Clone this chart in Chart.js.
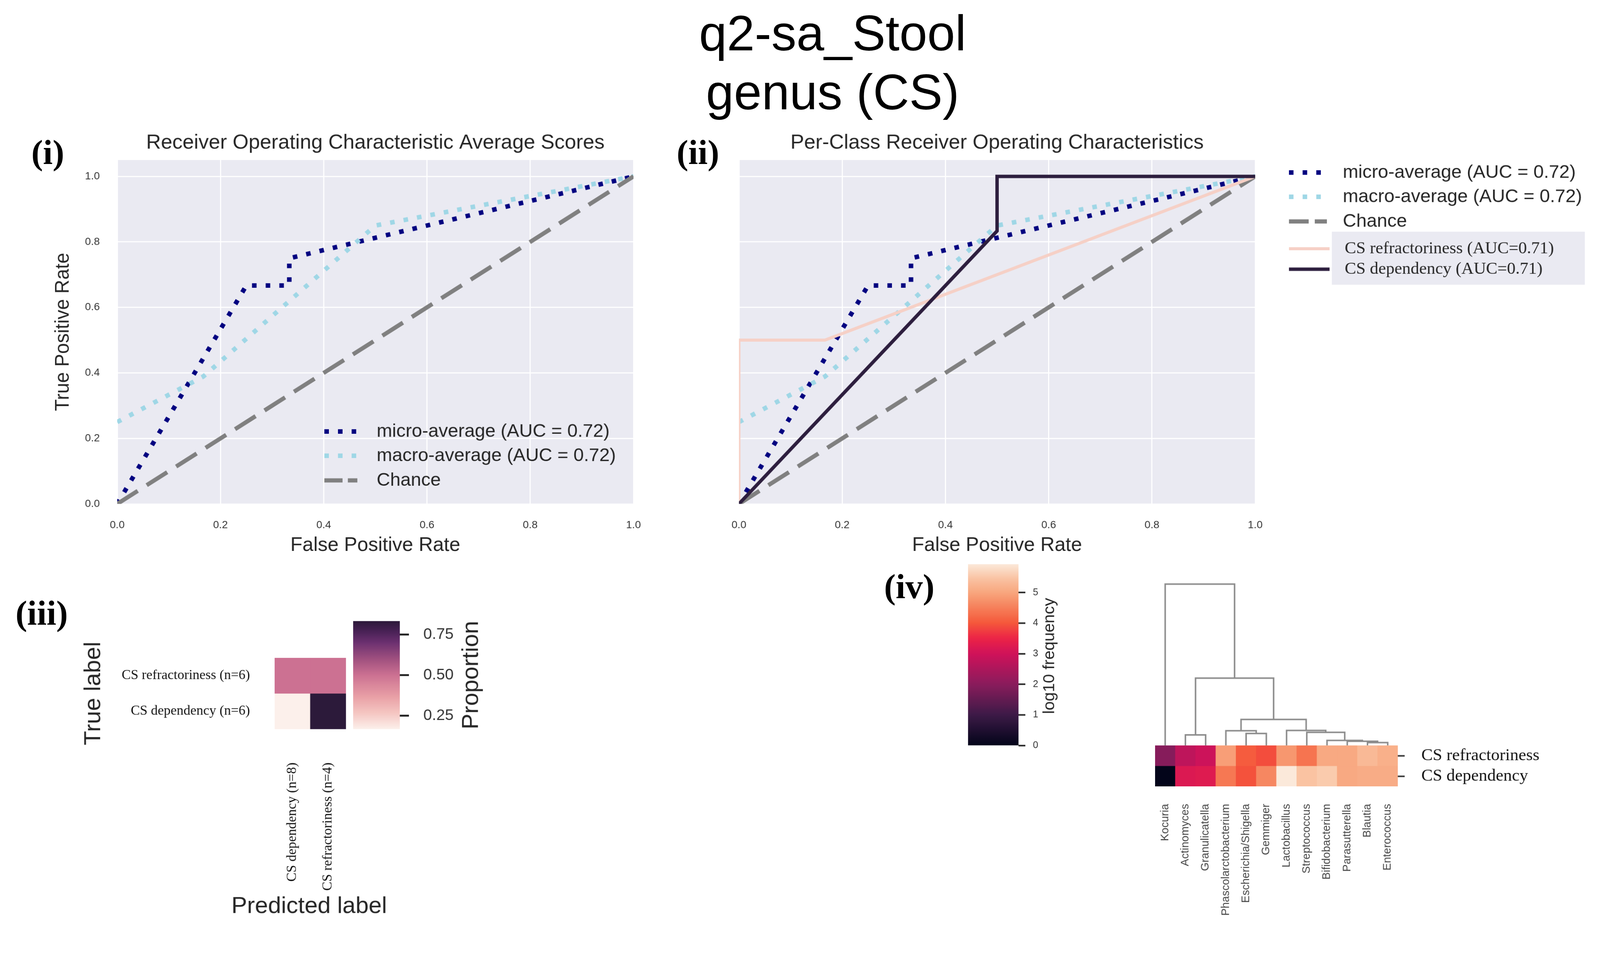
<!DOCTYPE html>
<html>
<head>
<meta charset="utf-8">
<title>q2-sa_Stool genus (CS)</title>
<script src="https://cdn.jsdelivr.net/npm/chart.js@4.4.1/dist/chart.umd.min.js"></script>
<style>
  html, body { margin: 0; padding: 0; background: #fff; overflow: hidden; }
  body { font-family: "Liberation Sans", Arial, sans-serif; }
  #page { position: absolute; left: 0; top: 0; width: 4218px; height: 2492px; transform-origin: 0 0; background: #fff; }
  .box { position: absolute; }
  .box canvas { display: block; }
  .title-line { position: absolute; font-size: 132px; line-height: 1; color: #000; white-space: nowrap; transform: translate(-50%, -50%); }
  .tag { position: absolute; font-family: "Liberation Serif", "Times New Roman", serif; font-weight: bold; font-size: 92px; line-height: 1; color: #000; transform: translate(-50%, -50%); }
</style>
</head>
<body>
<div id="page">
  <div class="title-line" style="left:2195px; top:88px;">q2-sa_Stool</div>
  <div class="title-line" style="left:2195px; top:243px;">genus (CS)</div>

  <div class="tag" style="left:126px; top:401px;">(i)</div>
  <div class="tag" style="left:1840px; top:401px;">(ii)</div>
  <div class="tag" style="left:110px; top:1617px;">(iii)</div>
  <div class="tag" style="left:2397px; top:1547px;">(iv)</div>

  <div class="box" style="left:0; top:330px;"><canvas id="rocAvg" width="1720" height="1180"></canvas></div>
  <div class="box" style="left:1750px; top:330px;"><canvas id="rocClass" width="2468" height="1180"></canvas></div>
  <div class="box" style="left:0; top:1640px;"><canvas id="confMat" width="1100" height="852"></canvas></div>
  <div class="box" style="left:920px; top:1560px;"><canvas id="confBar" width="420" height="400"></canvas></div>
  <div class="box" style="left:2540px; top:1460px;"><canvas id="freqBar" width="330" height="540"></canvas></div>
  <div class="box" style="left:3000px; top:1500px;"><canvas id="dendro" width="1218" height="466"></canvas></div>
  <div class="box" style="left:3000px; top:1940px;"><canvas id="freqMap" width="1218" height="552"></canvas></div>
</div>

<script>
// la page est dessinée en 4218x2492 ; on réduit si la fenêtre est plus petite
const fit = Math.min(window.innerWidth / 4218, window.innerHeight / 2492);
if (fit < 0.999) document.getElementById('page').style.transform = `scale(${fit})`;

// ---- données ----
const rocTicks = [0, 0.2, 0.4, 0.6, 0.8, 1.0];

const fprMicro = [0, 0.25, 0.3333, 0.3333, 1];
const tprMicro = [0, 0.6667, 0.6667, 0.75, 1];
const fprMacro = [0, 0.1667, 0.5, 1];
const tprMacro = [0.25, 0.3889, 0.85, 1];
const fprChance = [0, 1];
const tprChance = [0, 1];
const fprRefractoriness = [0, 0, 0.1667, 1];
const tprRefractoriness = [0, 0.5, 0.5, 1];
const fprDependency = [0, 0.5, 0.5, 1];
const tprDependency = [0, 0.8333, 1, 1];

const predLabels = ['CS dependency (n=8)', 'CS refractoriness (n=4)'];
const trueLabels = ['CS refractoriness (n=6)', 'CS dependency (n=6)'];
const propRefractoriness = [0.5, 0.5];
const propDependency = [0.1667, 0.8333];
const propTicks = [0.25, 0.5, 0.75];

const genera = ['Kocuria', 'Actinomyces', 'Granulicatella', 'Phascolarctobacterium', 'Escherichia/Shigella',
  'Gemmiger', 'Lactobacillus', 'Streptococcus', 'Bifidobacterium', 'Parasutterella', 'Blautia', 'Enterococcus'];
const groupLabels = ['CS refractoriness', 'CS dependency'];
const freqRefractoriness = [1.95, 2.75, 2.95, 4.9, 4.05, 3.9, 4.8, 4.35, 5.05, 5.05, 5.3, 5.15];
const freqDependency = [0, 3.2, 3.25, 4.4, 3.95, 4.6, 5.93, 5.45, 5.55, 5.05, 5.1, 5.1];
const freqTicks = [0, 1, 2, 3, 4, 5];
// liens du dendrogramme : [noeud gauche, noeud droit, hauteur] (feuilles 0..11)
const clusterLinks = [
  [10, 11, 20], [9, 12, 30], [8, 13, 36], [1, 2, 75], [4, 5, 85], [7, 14, 93],
  [3, 16, 105], [6, 17, 107], [18, 19, 185], [15, 20, 480], [0, 21, 1150]
];

// ---- palettes ----
function makeCmap(stops) {
  const p = stops.map(([t, h]) => [t, parseInt(h.slice(1, 3), 16), parseInt(h.slice(3, 5), 16), parseInt(h.slice(5, 7), 16)]);
  return t => {
    t = Math.min(1, Math.max(0, t));
    for (let i = 1; i < p.length; i++) {
      if (t <= p[i][0]) {
        const a = p[i - 1], b = p[i], f = (t - a[0]) / (b[0] - a[0]);
        const c = k => Math.round(a[k] + (b[k] - a[k]) * f);
        return `rgb(${c(1)},${c(2)},${c(3)})`;
      }
    }
    const l = p[p.length - 1];
    return `rgb(${l[1]},${l[2]},${l[3]})`;
  };
}
// "rocket" recalé sur la barre de couleur de la figure
const rocket = makeCmap([[0, '#03051a'], [0.169, '#3d1a47'], [0.337, '#8a1c5c'], [0.506, '#d0125a'],
  [0.59, '#ec2347'], [0.675, '#f5583b'], [0.76, '#f6805a'], [0.843, '#f8a67e'], [0.92, '#fac3a2'], [1, '#fbe9da']]);
const propCmap = makeCmap([[0, '#fcf0eb'], [0.15, '#f5c6c2'], [0.3, '#e9a0a6'], [0.5, '#cc7192'],
  [0.65, '#a0507f'], [0.8, '#6c3170'], [0.9, '#4b2257'], [1, '#2c1a3a']]);

// tailles d'axes fixes, sans marge automatique due aux étiquettes
const fixHeight = h => s => { s.height = h; s.paddingLeft = 0; s.paddingRight = 0; };
const fixWidth = w => s => { s.width = w; s.paddingTop = 0; s.paddingBottom = 0; };

// ---- plugins ----
const axesFace = {
  id: 'axesFace',
  beforeDraw(chart, args, opts) {
    if (!opts.color) return;
    const { ctx, chartArea: a } = chart;
    ctx.save();
    ctx.fillStyle = opts.color;
    ctx.fillRect(a.left, a.top, a.right - a.left, a.bottom - a.top);
    ctx.restore();
  }
};

// textes libres placés par rapport au centre de la zone de tracé
const freeLabels = {
  id: 'freeLabels',
  afterDraw(chart, args, opts) {
    if (!opts.items) return;
    const { ctx, chartArea: a } = chart;
    const cx = (a.left + a.right) / 2, cy = (a.top + a.bottom) / 2;
    opts.items.forEach(it => {
      ctx.save();
      ctx.translate(cx + it.dx, cy + it.dy);
      if (it.rotate) ctx.rotate(it.rotate);
      ctx.font = it.font;
      ctx.fillStyle = '#262626';
      ctx.textAlign = 'center';
      ctx.textBaseline = 'middle';
      ctx.fillText(it.text, 0, 0);
      ctx.restore();
    });
  }
};

// légende à traits, reprend le style des jeux de données
const lineLegend = {
  id: 'lineLegend',
  afterDraw(chart, args, opts) {
    if (!opts.rows) return;
    const { ctx, chartArea: a } = chart;
    ctx.save();
    if (opts.frame) {
      ctx.fillStyle = opts.frame.color;
      ctx.fillRect(a.left + opts.frame.x, a.top + opts.frame.y, opts.frame.w, opts.frame.h);
    }
    opts.rows.forEach(row => {
      const ds = chart.data.datasets[row.dataset];
      const x = a.left + row.x, y = a.top + row.y;
      ctx.beginPath();
      ctx.setLineDash(row.dash || ds.borderDash || []);
      ctx.lineWidth = ds.borderWidth;
      ctx.strokeStyle = ds.borderColor;
      ctx.lineCap = 'butt';
      ctx.moveTo(x, y);
      ctx.lineTo(x + row.w, y);
      ctx.stroke();
      ctx.setLineDash([]);
      ctx.font = row.font;
      ctx.fillStyle = '#262626';
      ctx.textAlign = 'left';
      ctx.textBaseline = 'middle';
      ctx.fillText(ds.label, x + row.w + row.gap, y);
    });
    ctx.restore();
  }
};

Chart.register(axesFace, freeLabels, lineLegend);
Chart.defaults.font.family = "'Liberation Sans', Arial, sans-serif";
Chart.defaults.color = '#262626';

const SANS = "'Liberation Sans', Arial, sans-serif";
const SERIF = "'Liberation Serif', 'Times New Roman', serif";
const LEGEND_FONT = `49px ${SANS}`;
const LEGEND_SERIF = `45px ${SERIF}`;

function curve(label, xs, ys, style, order) {
  return Object.assign({
    label,
    data: xs.map((x, i) => ({ x, y: ys[i] })),
    showLine: true, pointRadius: 0, tension: 0, fill: false, order
  }, style);
}

const microStyle = { borderColor: '#000080', borderWidth: 12, borderDash: [12, 24] };
const macroStyle = { borderColor: '#9fd7e6', borderWidth: 12, borderDash: [12, 24] };
const chanceStyle = { borderColor: '#808080', borderWidth: 11, borderDash: [64, 28] };

function rocOptions(cfg) {
  return {
    responsive: false, devicePixelRatio: 1, animation: false,
    layout: { padding: cfg.padding, autoPadding: false },
    plugins: {
      legend: { display: false },
      tooltip: { enabled: false },
      axesFace: { color: '#eaeaf2' },
      freeLabels: { items: [{ text: cfg.title, font: `54px ${SANS}`, dx: 0, dy: -498 }] },
      lineLegend: cfg.legend
    },
    scales: {
      x: {
        type: 'linear', min: 0, max: 1,
        afterBuildTicks: s => { s.ticks = rocTicks.map(v => ({ value: v })); },
        afterFit: fixHeight(181),
        grid: { color: '#ffffff', lineWidth: 3, drawTicks: false },
        border: { display: false },
        ticks: { padding: 39, color: '#333', font: { size: 28 }, callback: v => v.toFixed(1) },
        title: { display: true, text: 'False Positive Rate', font: { size: 52 }, padding: { top: 0, bottom: 40 } }
      },
      y: {
        type: 'linear', min: 0, max: 1.05,
        afterBuildTicks: s => { s.ticks = rocTicks.map(v => ({ value: v })); },
        afterFit: fixWidth(cfg.yWidth),
        grid: { color: '#ffffff', lineWidth: 3, drawTicks: false },
        border: { display: false },
        ticks: { display: cfg.yLabels, padding: 46, color: '#333', font: { size: 28 }, callback: v => v.toFixed(1) },
        title: { display: cfg.yLabels, text: 'True Positive Rate', font: { size: 51 }, padding: { top: 136, bottom: 0 } }
      }
    }
  };
}

// (i) courbes moyennes
new Chart(document.getElementById('rocAvg'), {
  type: 'scatter',
  data: {
    datasets: [
      curve('micro-average (AUC = 0.72)', fprMicro, tprMicro, microStyle, 3),
      curve('macro-average (AUC = 0.72)', fprMacro, tprMacro, macroStyle, 2),
      curve('Chance', fprChance, tprChance, chanceStyle, 1)
    ]
  },
  options: rocOptions({
    padding: { top: 92, right: 50, left: 0, bottom: 0 },
    yWidth: 309, yLabels: true,
    title: 'Receiver Operating Characteristic Average Scores',
    legend: {
      rows: [
        { dataset: 0, x: 546, y: 716, w: 87, gap: 51, font: LEGEND_FONT },
        { dataset: 1, x: 546, y: 780, w: 87, gap: 51, font: LEGEND_FONT },
        { dataset: 2, x: 546, y: 845, w: 87, gap: 51, font: LEGEND_FONT, dash: [48, 14] }
      ]
    }
  })
});

// (ii) courbes par classe
new Chart(document.getElementById('rocClass'), {
  type: 'scatter',
  data: {
    datasets: [
      curve('micro-average (AUC = 0.72)', fprMicro, tprMicro, microStyle, 5),
      curve('macro-average (AUC = 0.72)', fprMacro, tprMacro, macroStyle, 4),
      curve('Chance', fprChance, tprChance, chanceStyle, 3),
      curve('CS refractoriness (AUC=0.71)', fprRefractoriness, tprRefractoriness, { borderColor: '#f6d0c6', borderWidth: 8 }, 2),
      curve('CS dependency (AUC=0.71)', fprDependency, tprDependency, { borderColor: '#2d1e3e', borderWidth: 9 }, 1)
    ]
  },
  options: rocOptions({
    padding: { top: 92, right: 909, left: 0, bottom: 0 },
    yWidth: 198, yLabels: false,
    title: 'Per-Class Receiver Operating Characteristics',
    legend: {
      frame: { color: '#eaeaf2', x: 1563, y: 189, w: 667, h: 140 },
      rows: [
        { dataset: 0, x: 1450, y: 33, w: 100, gap: 42, font: LEGEND_FONT },
        { dataset: 1, x: 1450, y: 97, w: 100, gap: 42, font: LEGEND_FONT },
        { dataset: 2, x: 1450, y: 162, w: 100, gap: 42, font: LEGEND_FONT, dash: [52, 16] },
        { dataset: 3, x: 1450, y: 234, w: 107, gap: 40, font: LEGEND_SERIF },
        { dataset: 4, x: 1450, y: 288, w: 107, gap: 40, font: LEGEND_SERIF }
      ]
    }
  })
});

// (iii) matrice de confusion normalisée
const propRows = [propRefractoriness, propDependency];
const propAll = propRows.flat();
const propMin = Math.min(...propAll), propMax = Math.max(...propAll);
const propNorm = v => (v - propMin) / (propMax - propMin);

new Chart(document.getElementById('confMat'), {
  type: 'bar',
  data: {
    labels: predLabels,
    datasets: propRows.map((row, r) => ({
      label: trueLabels[r],
      data: row.map(() => [r, r + 1]),
      backgroundColor: row.map(v => propCmap(propNorm(v))),
      borderWidth: 0, barPercentage: 1, categoryPercentage: 1, grouped: false
    }))
  },
  options: {
    responsive: false, devicePixelRatio: 1, animation: false,
    layout: { padding: { top: 95, right: 188, left: 0, bottom: 0 }, autoPadding: false },
    plugins: {
      legend: { display: false }, tooltip: { enabled: false },
      freeLabels: { items: [{ text: 'Predicted label', font: `62px ${SANS}`, dx: -3, dy: 562 }] }
    },
    scales: {
      x: {
        afterFit: fixHeight(569),
        grid: { display: false }, border: { display: false },
        ticks: { minRotation: 90, maxRotation: 90, autoSkip: false, padding: 80, color: '#111', font: { family: SERIF, size: 36 } }
      },
      y: {
        min: 0, max: 2, reverse: true,
        afterBuildTicks: s => { s.ticks = trueLabels.map((t, i) => ({ value: i + 0.5 })); },
        afterFit: fixWidth(724),
        grid: { display: false }, border: { display: false },
        ticks: { padding: 57, color: '#111', font: { family: SERIF, size: 36 }, callback: (v, i) => trueLabels[i] },
        title: { display: true, text: 'True label', font: { size: 62 }, padding: { top: 210, bottom: 0 } }
      }
    }
  }
});

function colorbar(canvasId, vmin, vmax, cmap, ticks, cfg) {
  return new Chart(document.getElementById(canvasId), {
    type: 'bar',
    data: {
      labels: [''],
      datasets: [{
        data: [[vmin, vmax]],
        borderWidth: 0, barPercentage: 1, categoryPercentage: 1,
        backgroundColor(c) {
          const chart = c.chart;
          if (!chart.chartArea) return cmap(0.5);
          const y = chart.scales.y;
          const g = chart.ctx.createLinearGradient(0, y.getPixelForValue(vmin), 0, y.getPixelForValue(vmax));
          for (let i = 0; i <= 40; i++) g.addColorStop(i / 40, cmap(i / 40));
          return g;
        }
      }]
    },
    options: {
      responsive: false, devicePixelRatio: 1, animation: false,
      layout: { padding: cfg.padding, autoPadding: false },
      plugins: {
        legend: { display: false }, tooltip: { enabled: false },
        freeLabels: { items: [cfg.title] }
      },
      scales: {
        x: { display: false },
        y: {
          position: 'right', min: vmin, max: vmax,
          afterBuildTicks: s => { s.ticks = ticks.map(v => ({ value: v })); },
          afterFit: fixWidth(cfg.width),
          grid: { display: true, drawOnChartArea: false, drawTicks: true, tickLength: cfg.tickLength, tickWidth: cfg.tickWidth, tickColor: '#222' },
          border: { display: false },
          ticks: { padding: cfg.tickPadding, color: '#333', font: { size: cfg.fontSize }, callback: cfg.format }
        }
      }
    }
  });
}

colorbar('confBar', propMin, propMax, propCmap, propTicks, {
  padding: { left: 11, top: 78, bottom: 37, right: 0 },
  width: 286, tickLength: 24, tickWidth: 5, tickPadding: 38, fontSize: 41,
  format: v => v.toFixed(2),
  title: { text: 'Proportion', font: `62px ${SANS}`, dx: 250, dy: 0, rotate: -Math.PI / 2 }
});

// (iv) fréquences log10 + dendrogramme
const freqRows = [freqRefractoriness, freqDependency];
const freqMax = Math.max(...freqRows.flat());
const freqMin = Math.min(...freqRows.flat());

colorbar('freqBar', freqMin, freqMax, rocket, freqTicks, {
  padding: { left: 12, top: 28, bottom: 34, right: 0 },
  width: 185, tickLength: 18, tickWidth: 4, tickPadding: 20, fontSize: 25,
  format: v => String(v),
  title: { text: 'log10 frequency', font: `43px ${SANS}`, dx: 149, dy: 3, rotate: -Math.PI / 2 }
});

new Chart(document.getElementById('freqMap'), {
  type: 'bar',
  data: {
    labels: genera,
    datasets: freqRows.map((row, r) => ({
      label: groupLabels[r],
      data: row.map(() => [r, r + 1]),
      backgroundColor: row.map(v => rocket((v - freqMin) / (freqMax - freqMin))),
      borderWidth: 0, barPercentage: 1, categoryPercentage: 1, grouped: false
    }))
  },
  options: {
    responsive: false, devicePixelRatio: 1, animation: false,
    layout: { padding: { top: 26, left: 45, right: 0, bottom: 0 }, autoPadding: false },
    plugins: { legend: { display: false }, tooltip: { enabled: false } },
    scales: {
      x: {
        afterFit: fixHeight(418),
        grid: { display: false }, border: { display: false },
        ticks: { minRotation: 90, maxRotation: 90, autoSkip: false, padding: 38, color: '#444', font: { size: 29 } }
      },
      y: {
        position: 'right', min: 0, max: 2, reverse: true,
        afterBuildTicks: s => { s.ticks = groupLabels.map((t, i) => ({ value: i + 0.5 })); },
        afterFit: fixWidth(533),
        grid: { display: true, drawOnChartArea: false, drawTicks: true, tickLength: 18, tickWidth: 4, tickColor: '#333' },
        border: { display: false },
        ticks: { padding: 44, color: '#111', font: { family: SERIF, size: 45 }, callback: (v, i) => groupLabels[i] }
      }
    }
  }
});

// positions des noeuds : feuilles au centre des colonnes, puis milieu des enfants
const nodes = genera.map((g, i) => ({ x: i + 0.5, h: 0 }));
const dendroSets = clusterLinks.map(([a, b, h]) => {
  const A = nodes[a], B = nodes[b];
  nodes.push({ x: (A.x + B.x) / 2, h });
  return {
    data: [{ x: A.x, y: A.h }, { x: A.x, y: h }, { x: B.x, y: h }, { x: B.x, y: B.h }],
    showLine: true, pointRadius: 0, tension: 0, borderColor: '#8c8c8c', borderWidth: 4
  };
});

new Chart(document.getElementById('dendro'), {
  type: 'scatter',
  data: { datasets: dendroSets },
  options: {
    responsive: false, devicePixelRatio: 1, animation: false,
    layout: { padding: { top: 22, left: 45, right: 533, bottom: 0 }, autoPadding: false },
    plugins: { legend: { display: false }, tooltip: { enabled: false } },
    scales: {
      x: { type: 'linear', min: 0, max: genera.length, display: false },
      y: { type: 'linear', min: 0, max: 1200, display: false }
    }
  }
});
</script>
</body>
</html>
